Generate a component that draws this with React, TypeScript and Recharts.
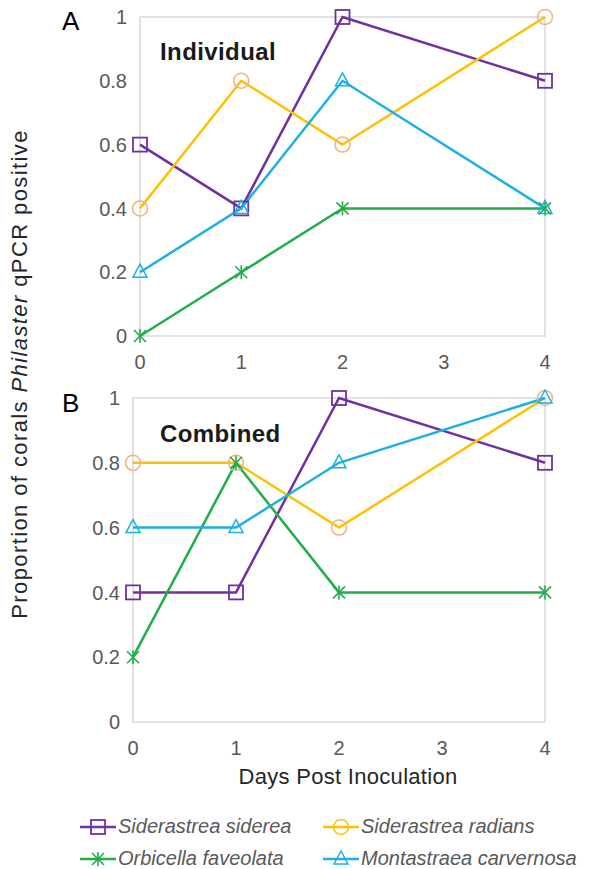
import React from 'react';
import { LineChart, Line, XAxis, YAxis, ReferenceArea } from 'recharts';

const days = [0, 1, 2, 4];
const xTicks = [0, 1, 2, 3, 4];
const yTicks = [0, 0.2, 0.4, 0.6, 0.8, 1];

// panel A - individual
const sidereaInd = [0.6, 0.4, 1, 0.8];
const radiansInd = [0.4, 0.8, 0.6, 1];
const faveolataInd = [0, 0.2, 0.4, 0.4];
const carvernosaInd = [0.2, 0.4, 0.8, 0.4];

// panel B - combined
const sidereaComb = [0.4, 0.4, 1, 0.8];
const radiansComb = [0.8, 0.8, 0.6, 1];
const faveolataComb = [0.2, 0.8, 0.4, 0.4];
const carvernosaComb = [0.6, 0.6, 0.8, 1];

const speciesNames = [
  'Siderastrea siderea',
  'Siderastrea radians',
  'Orbicella faveolata',
  'Montastraea carvernosa',
];

const PURPLE = '#7030A0';
const ORANGE = '#FFC000';
const PEACH = '#F4B183';
const GREEN = '#22AD4B';
const BLUE = '#1DB0E6';
const FONT = '"Liberation Sans", Arial, sans-serif';
const TICK = '#595959';

type Shape = 'square' | 'circle' | 'star' | 'triangle';

const seriesStyle: { key: string; color: string; marker: string; shape: Shape }[] = [
  { key: 'siderea', color: PURPLE, marker: PURPLE, shape: 'square' },
  { key: 'radians', color: ORANGE, marker: PEACH, shape: 'circle' },
  { key: 'faveolata', color: GREEN, marker: GREEN, shape: 'star' },
  { key: 'carvernosa', color: BLUE, marker: BLUE, shape: 'triangle' },
];

function marker(shape: Shape, cx: number, cy: number, color: string, k?: string) {
  if (shape === 'square')
    return <rect key={k} x={cx - 7} y={cy - 7} width={14} height={14} fill="none" stroke={color} strokeWidth={1.8} />;
  if (shape === 'circle')
    return <circle key={k} cx={cx} cy={cy} r={7.5} fill="none" stroke={color} strokeWidth={1.5} />;
  if (shape === 'triangle')
    return (
      <polygon
        key={k}
        points={`${cx},${cy - 8} ${cx - 7},${cy + 5} ${cx + 7},${cy + 5}`}
        fill="none"
        stroke={color}
        strokeWidth={1.5}
      />
    );
  return (
    <g key={k} stroke={color} strokeWidth={1.6}>
      <line x1={cx - 6} y1={cy - 6} x2={cx + 6} y2={cy + 6} />
      <line x1={cx - 6} y1={cy + 6} x2={cx + 6} y2={cy - 6} />
      <line x1={cx} y1={cy - 7} x2={cx} y2={cy + 7} />
    </g>
  );
}

function buildRows(a: number[], b: number[], c: number[], d: number[]) {
  return days.map((day, i) => ({
    day,
    siderea: a[i],
    radians: b[i],
    faveolata: c[i],
    carvernosa: d[i],
  }));
}

const dataA = buildRows(sidereaInd, radiansInd, faveolataInd, carvernosaInd);
const dataB = buildRows(sidereaComb, radiansComb, faveolataComb, carvernosaComb);

function Panel({ data, left, bottom }: { data: any[]; left: number; bottom: number }) {
  return (
    <LineChart width={596} height={380} data={data} margin={{ top: 17, right: 51, left, bottom }}>
      <XAxis
        dataKey="day"
        type="number"
        domain={[0, 4]}
        ticks={xTicks}
        axisLine={false}
        tickLine={false}
        tickSize={0}
        tickMargin={19}
        height={30}
        tick={{ fill: TICK, fontSize: 20, fontFamily: FONT }}
      />
      <YAxis
        domain={[0, 1]}
        ticks={yTicks}
        axisLine={false}
        tickLine={false}
        tickSize={0}
        tickMargin={13}
        width={40}
        tick={{ fill: TICK, fontSize: 20, fontFamily: FONT }}
      />
      <ReferenceArea x1={0} x2={4} y1={0} y2={1} fill="none" stroke="#D9D9D9" strokeWidth={1.5} />
      {seriesStyle.map((s) => (
        <Line
          key={s.key}
          dataKey={s.key}
          stroke={s.color}
          strokeWidth={2.5}
          isAnimationActive={false}
          dot={(p: any) => marker(s.shape, p.cx, p.cy, s.marker, `${s.key}-${p.index}`)}
        />
      ))}
    </LineChart>
  );
}

export default function App() {
  return (
    <div
      style={{
        position: 'absolute',
        left: 0,
        top: 0,
        width: 596,
        height: 869,
        background: '#fff',
        fontFamily: FONT,
      }}
    >
      <div style={{ position: 'absolute', left: 0, top: 0 }}>
        <Panel data={dataA} left={100} bottom={14} />
      </div>
      <div style={{ position: 'absolute', left: 0, top: 381 }}>
        <Panel data={dataB} left={93} bottom={9} />
      </div>

      <div style={{ position: 'absolute', left: 62, top: 6, fontSize: 26, color: '#000' }}>A</div>
      <div style={{ position: 'absolute', left: 62, top: 388, fontSize: 26, color: '#000' }}>B</div>
      <div
        style={{
          position: 'absolute',
          left: 160,
          top: 38,
          fontSize: 24,
          letterSpacing: 0.4,
          fontWeight: 'bold',
          color: '#1a1a1a',
        }}
      >
        Individual
      </div>
      <div
        style={{
          position: 'absolute',
          left: 160,
          top: 420,
          fontSize: 24,
          letterSpacing: 0.4,
          fontWeight: 'bold',
          color: '#1a1a1a',
        }}
      >
        Combined
      </div>

      <div
        style={{
          position: 'absolute',
          left: 20,
          top: 374,
          transform: 'translate(-50%, -50%) rotate(-90deg)',
          whiteSpace: 'nowrap',
          fontSize: 22,
          letterSpacing: 1.4,
          color: '#262626',
        }}
      >
        Proportion of corals <i>Philaster</i> qPCR positive
      </div>

      <div
        style={{
          position: 'absolute',
          left: 348,
          top: 777,
          transform: 'translate(-50%, -50%)',
          whiteSpace: 'nowrap',
          fontSize: 22,
          letterSpacing: 0.3,
          color: '#262626',
        }}
      >
        Days Post Inoculation
      </div>

      {seriesStyle.map((s, i) => {
        const col = i % 2;
        const row = Math.floor(i / 2);
        return (
          <div
            key={s.key}
            style={{
              position: 'absolute',
              left: col === 0 ? 80 : 323,
              top: 815 + row * 32,
              display: 'flex',
              alignItems: 'center',
              whiteSpace: 'nowrap',
            }}
          >
            <svg width={36} height={22}>
              <line x1={0} y1={11} x2={36} y2={11} stroke={s.color} strokeWidth={2.5} />
              {marker(s.shape, 18, 11, s.shape === 'circle' ? ORANGE : s.marker)}
            </svg>
            <span style={{ fontStyle: 'italic', fontSize: 20, color: '#595959', marginLeft: 2 }}>
              {speciesNames[i]}
            </span>
          </div>
        );
      })}
    </div>
  );
}
